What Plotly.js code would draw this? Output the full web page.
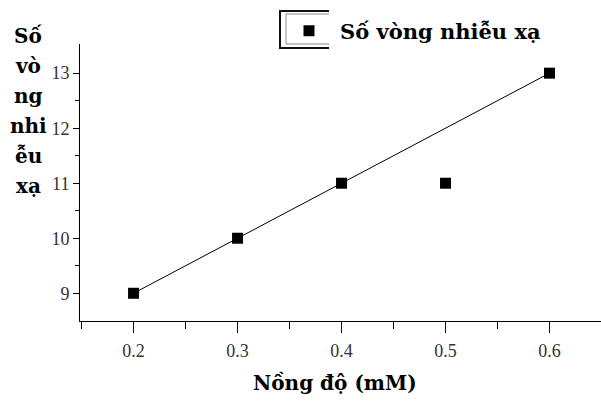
<!DOCTYPE html>
<html><head><meta charset="utf-8">
<script src="https://cdn.plot.ly/plotly-3.0.1.min.js"></script>
<style>body{margin:0;background:#fff}#chart{width:601px;height:405px}</style>
</head><body><div id="chart"></div>
<script>
// Data
const concentration = [0.2, 0.3, 0.4, 0.5, 0.6];
const ringCount = [9, 10, 11, 11, 13];
const fitX = [0.2, 0.6];
const fitY = [9, 13];
const xTicks = [0.2, 0.3, 0.4, 0.5, 0.6];
const yTicks = [9, 10, 11, 12, 13];
const seriesName = 'Số vòng nhiễu xạ';
const xTitle = 'Nồng độ (mM)';
const yTitleLines = ['Số', 'vò', 'ng', 'nhi', 'ễu', 'xạ'];

// plot geometry in pixels
const L = 80, R = 0, T = 44, B = 84, W = 601, H = 405;
const pw = W - L - R, ph = H - T - B;
const px = v => (v - L) / pw;
const py = v => (H - B - v) / ph;
const serif = "'Liberation Serif', 'Times New Roman', serif";
const boldSerif = "'DejaVu Serif', serif";

const traces = [
  {x: fitX, y: fitY, mode: 'lines', line: {color: '#000', width: 1}, showlegend: false, hoverinfo: 'skip'},
  {x: concentration, y: ringCount, mode: 'markers', name: seriesName,
   marker: {symbol: 'square', size: 11, color: '#000'}}
];

const yTitleAnn = yTitleLines.map((t, i) => ({
  text: '<b>' + t + '</b>', xref: 'paper', yref: 'paper', x: px(28), y: py(36 + i * 30),
  xanchor: 'center', yanchor: 'middle', showarrow: false,
  font: {family: boldSerif, size: 20, color: '#000'}
}));

const layout = {
  width: W, height: H,
  margin: {l: L, r: R, t: T, b: B},
  paper_bgcolor: '#fff', plot_bgcolor: '#fff',
  font: {family: serif, color: '#000'},
  showlegend: true,
  legend: {x: px(278), xanchor: 'left', y: py(31), yanchor: 'middle',
           bgcolor: 'rgba(0,0,0,0)', borderwidth: 0, itemwidth: 52,
           font: {family: boldSerif, size: 21, color: '#000', weight: 'bold'}},
  xaxis: {range: [0.1485, 0.6495], tickvals: xTicks, ticktext: xTicks.map(v => v.toFixed(1)),
          showgrid: false, zeroline: false, showline: true, linecolor: '#000', linewidth: 1,
          ticks: 'outside', ticklen: 11, tickcolor: '#000', ticklabelstandoff: 2,
          tickfont: {family: serif, size: 18, color: '#333'},
          minor: {tickvals: [0.15, 0.25, 0.35, 0.45, 0.55], ticks: 'outside', ticklen: 7, tickcolor: '#000'}},
  yaxis: {range: [8.496, 13.53], tickvals: yTicks, ticktext: yTicks.map(String),
          showgrid: false, zeroline: false, showline: true, linecolor: '#000', linewidth: 1,
          ticks: 'outside', ticklen: 6, tickcolor: '#000',
          tickfont: {family: serif, size: 18, color: '#333'},
          minor: {tickvals: [9.5, 10.5, 11.5, 12.5], ticks: 'outside', ticklen: 4, tickcolor: '#000'}},
  annotations: [
    {text: '<b>' + xTitle + '</b>', xref: 'paper', yref: 'paper', x: px(335), y: py(383),
     xanchor: 'center', yanchor: 'middle', showarrow: false, font: {family: boldSerif, size: 20, color: '#000'}}
  ].concat(yTitleAnn),
  shapes: [
    {type: 'path', xref: 'paper', yref: 'paper',
     path: `M${px(329)},${py(11)} L${px(280)},${py(11)} L${px(280)},${py(48)} L${px(329)},${py(48)}`,
     line: {color: '#111', width: 2}},
    {type: 'path', xref: 'paper', yref: 'paper',
     path: `M${px(329)},${py(14)} L${px(286)},${py(14)} L${px(286)},${py(44)} L${px(329)},${py(44)}`,
     line: {color: '#888', width: 1}}
  ]
};

Plotly.newPlot('chart', traces, layout, {displayModeBar: false, staticPlot: true});
</script></body></html>
